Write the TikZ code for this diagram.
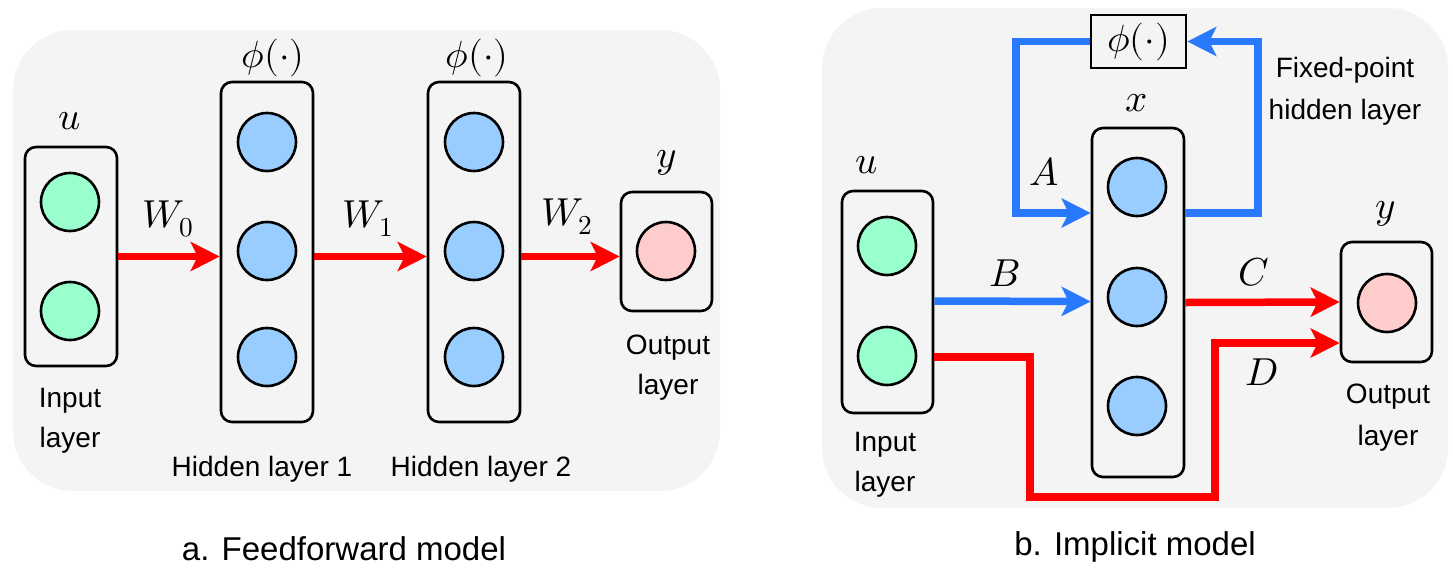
\documentclass[tikz,border=0pt]{standalone}
\usepackage{fontspec}
\usepackage{unicode-math}
\setmathfont{Latin Modern Math}
\newfontfamily\labelfont{Liberation Sans}
\usetikzlibrary{arrows.meta}

\definecolor{panelgray}{HTML}{F4F4F4}
\definecolor{inputgreen}{HTML}{99FFCC}
\definecolor{hiddenblue}{HTML}{99CCFF}
\definecolor{outputpink}{HTML}{FFCCCC}
\definecolor{arrowred}{HTML}{FF0000}
\definecolor{arrowblue}{HTML}{2979FF}

\tikzset{
  panel/.style={fill=panelgray, draw=none, rounded corners=60pt},
  layerbox/.style={draw=black, line width=2.6pt, rounded corners=11pt, inner sep=0pt},
  neuron/.style={circle, draw=black, line width=2.6pt, minimum size=58pt, inner sep=0pt},
  bigtip/.style={-{Stealth[length=29pt, width=29pt, inset=7pt]}},
  redarrow/.style={bigtip, draw=arrowred, line width=7.5pt},
  bluearrow/.style={bigtip, draw=arrowblue, line width=7.5pt},
  sym/.style={font=\fontsize{39}{42}\selectfont, inner sep=0pt},
  wlbl/.style={font=\fontsize{39}{42}\selectfont, inner sep=0pt, anchor=base},
  funlbl/.style={font=\fontsize{38}{42}\selectfont, inner sep=0pt},
  txt/.style={font=\labelfont\fontsize{28}{32}\selectfont, inner sep=0pt, anchor=base},
  caption/.style={font=\labelfont\fontsize{33}{36}\selectfont, inner sep=0pt, anchor=base},
}

\begin{document}
\begin{tikzpicture}[x=1pt, y=-1pt]
  \useasboundingbox (0,0) rectangle (1453,574);

  % ---------------- a. Feedforward model ----------------
  \path[panel] (13,30) rectangle (720,491);

  \node[layerbox, minimum width=92pt, minimum height=219pt] (fin) at (71,256.5) {};
  \node[layerbox, minimum width=92pt, minimum height=340pt] (fh1) at (267,252) {};
  \node[layerbox, minimum width=92pt, minimum height=340pt] (fh2) at (474,252) {};
  \node[layerbox, minimum width=91pt, minimum height=119pt] (fout) at (666.5,251.5) {};

  \node[neuron, fill=inputgreen] (fu1) at (70,202) {};
  \node[neuron, fill=inputgreen] (fu2) at (70,311) {};
  \node[neuron, fill=hiddenblue] (fa1) at (267,142) {};
  \node[neuron, fill=hiddenblue] (fa2) at (267,251) {};
  \node[neuron, fill=hiddenblue] (fa3) at (267,357) {};
  \node[neuron, fill=hiddenblue] (fb1) at (474,142) {};
  \node[neuron, fill=hiddenblue] (fb2) at (474,251) {};
  \node[neuron, fill=hiddenblue] (fb3) at (474,357) {};
  \node[neuron, fill=outputpink] (fy1) at (666,251) {};

  % weights between consecutive layers, all on one level
  \draw[redarrow] (fin.east) -- (fin.east -| fh1.west);
  \draw[redarrow] (fin.east -| fh1.east) -- (fin.east -| fh2.west);
  \draw[redarrow] (fin.east -| fh2.east) -- (fin.east -| fout.west);

  \node[sym] (fulbl) at (70,121) {$u$};
  \node[funlbl] (fphi1) at (273,58) {$\phi(\cdot)$};
  \node[funlbl] (fphi2) at (477,58) {$\phi(\cdot)$};
  \node[sym, anchor=base] (fylbl) at (667,167) {$y$};
  \node[wlbl] (w0) at (168,227) {$W_0$};
  \node[wlbl] (w1) at (368,227) {$W_1$};
  \node[wlbl] (w2) at (567,225) {$W_2$};

  \node[txt] (fint1) at (70,407) {Input};
  \node[txt] (fint2) at (70,447) {layer};
  \node[txt] (fh1t) at (262,476) {Hidden layer 1};
  \node[txt] (fh2t) at (481,476) {Hidden layer 2};
  \node[txt] (foutt1) at (668,354) {Output};
  \node[txt] (foutt2) at (668,394) {layer};

  \node[caption] (capa) at (344,560) {a. Feedforward model};

  % ---------------- b. Implicit model ----------------
  \path[panel] (822,8) rectangle (1448,508);

  \node[layerbox, minimum width=91pt, minimum height=222pt] (bin) at (887.5,302) {};
  \node[layerbox, minimum width=92pt, minimum height=349pt] (bh) at (1138,302.5) {};
  \node[layerbox, minimum width=91pt, minimum height=120pt] (bout) at (1386.5,302) {};
  \node[draw=black, line width=2.6pt, minimum width=95pt, minimum height=53pt,
        inner sep=0pt, funlbl] (bphi) at (1138.5,41.5) {$\phi(\cdot)$};

  \node[neuron, fill=inputgreen] (bu1) at (887,246) {};
  \node[neuron, fill=inputgreen] (bu2) at (887,356) {};
  \node[neuron, fill=hiddenblue] (bx1) at (1137,187) {};
  \node[neuron, fill=hiddenblue] (bx2) at (1137,297) {};
  \node[neuron, fill=hiddenblue] (bx3) at (1137,406) {};
  \node[neuron, fill=outputpink] (by1) at (1387,303) {};

  % fixed-point loop through the activation
  \draw[bluearrow] (bphi.west) -| (1016,213) -- ([yshift=89.5pt]bh.west);
  \draw[bluearrow] ([yshift=89.5pt]bh.east) -| (1258,41.5) -- (bphi.east);
  % input to hidden state, hidden state and input to output
  \draw[bluearrow] ([yshift=1pt]bin.east) -- ([yshift=1pt]bh.west);
  \draw[redarrow] (bh.east) -- (bout.west);
  \draw[redarrow] ([yshift=-55pt]bin.east) -| (1030,497) -| (1215,343) -- ([yshift=-41pt]bout.west);

  \node[sym] (bulbl) at (867,165) {$u$};
  \node[sym] (bxlbl) at (1137,103) {$x$};
  \node[sym, anchor=base] (bylbl) at (1386,218) {$y$};
  \node[wlbl] (la) at (1044,185) {$A$};
  \node[wlbl] (lb) at (1005,286) {$B$};
  \node[wlbl] (lc) at (1254,285) {$C$};
  \node[wlbl] (ld) at (1262,385) {$D$};

  \node[txt] (fp1) at (1345,77) {Fixed-point};
  \node[txt] (fp2) at (1345,119) {hidden layer};
  \node[txt] (bint1) at (885,451) {Input};
  \node[txt] (bint2) at (885,491) {layer};
  \node[txt] (boutt1) at (1388,403) {Output};
  \node[txt] (boutt2) at (1388,445) {layer};

  \node[caption] (capb) at (1135,555) {b. Implicit model};
\end{tikzpicture}
\end{document}
